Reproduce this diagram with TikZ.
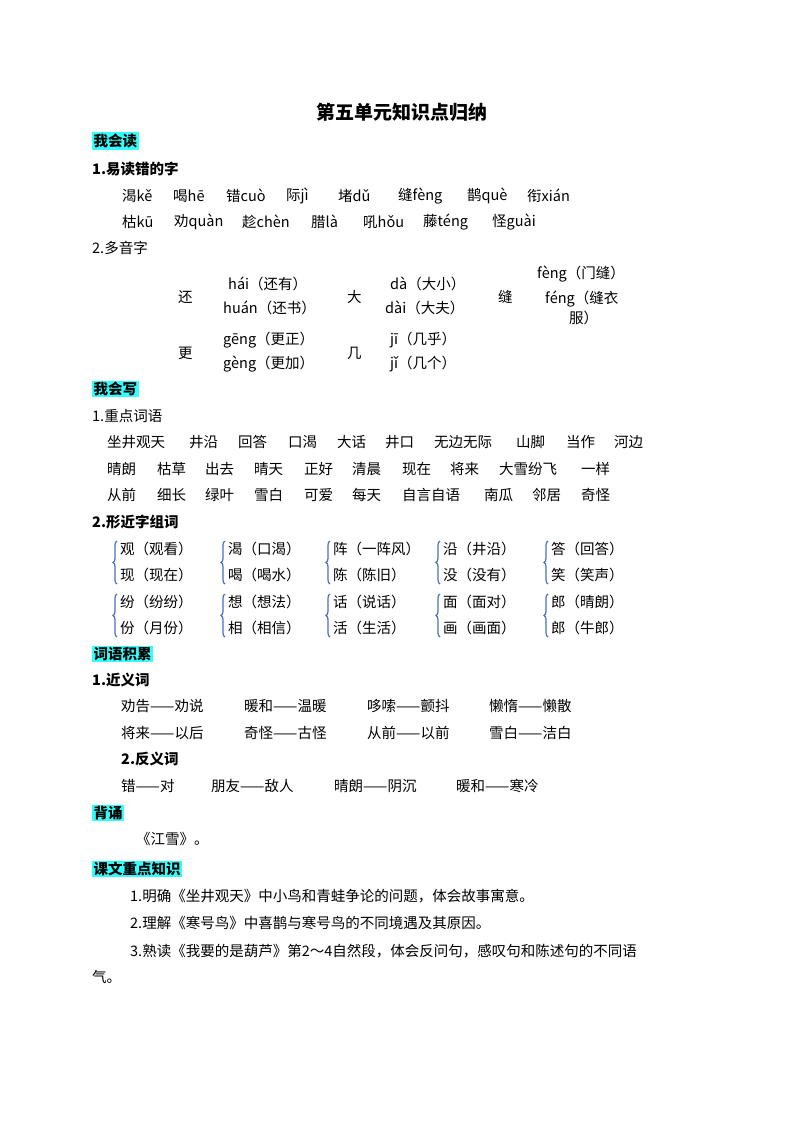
\documentclass[tikz,border=0pt]{standalone}
\usepackage{fontspec}
\setmainfont{Noto Sans CJK SC}
\usetikzlibrary{decorations.pathreplacing}
\definecolor{hl}{HTML}{33FFFF}
\definecolor{br}{HTML}{4472C4}
\tikzset{
  tx/.style={anchor=west,inner sep=0pt,font=\fontsize{14.5}{16}\selectfont},
  hd/.style={tx,font=\fontsize{14.5}{16}\selectfont\bfseries},
  hi/.style={anchor=west,inner sep=1.5pt,fill=hl,font=\fontsize{14.5}{16}\selectfont\bfseries},
  brc/.style={draw=br,line width=1.2pt,decorate,decoration={brace,amplitude=4pt}}
}
\begin{document}
\begin{tikzpicture}[x=1pt,y=-1pt]
\useasboundingbox (0,0) rectangle (800,1132);
\node[font=\fontsize{19}{21}\selectfont\bfseries,inner sep=0pt] (title) at (402,112) {第五单元知识点归纳};
\node[hi] (h1) at (92,141) {我会读};
\node[hd] (s1) at (92,169) {1.易读错的字};
\foreach \x/\t [count=\i] in {122/渴kě,173/喝hē,226/错cuò,286/际jì,338/堵dǔ,398/缝fèng,467/鹊què,527/衔xián}
  \node[tx] (ra\i) at (\x,196) {\t};
\foreach \x/\t [count=\i] in {122/枯kū,174/劝quàn,242/趁chèn,311/腊là,363/吼hǒu,423/藤téng,492/怪guài}
  \node[tx] (rb\i) at (\x,222) {\t};
\node[tx] (s2) at (92,248) {2.多音字};
\node[tx] (p1) at (178,297) {还};
\node[tx] (p2) at (228,284) {hái（还有）};
\node[tx] (p3) at (223,308) {huán（还书）};
\node[tx] (p4) at (347,297) {大};
\node[tx] (p5) at (390,284) {dà（大小）};
\node[tx] (p6) at (385,308) {dài（大夫）};
\node[tx] (p7) at (498,297) {缝};
\node[tx] (p8) at (537,274) {fèng（门缝）};
\node[tx] (p9) at (545,299) {féng（缝衣};
\node[tx] (p10) at (569,318) {服）};
\node[tx] (p11) at (178,353) {更};
\node[tx] (p12) at (223,340) {gēng（更正）};
\node[tx] (p13) at (223,364) {gèng（更加）};
\node[tx] (p14) at (347,353) {几};
\node[tx] (p15) at (390,340) {jī（几乎）};
\node[tx] (p16) at (390,364) {jǐ（几个）};
\node[hi] (h2) at (92,389) {我会写};
\node[tx] (s3) at (92,416) {1.重点词语};
\foreach \x/\t [count=\i] in {107/坐井观天,189/井沿,238/回答,288/口渴,337/大话,385/井口,434/无边无际,516/山脚,566/当作,614/河边}
  \node[tx] (wa\i) at (\x,442) {\t};
\foreach \x/\t [count=\i] in {107/晴朗,157/枯草,205/出去,254/晴天,304/正好,352/清晨,402/现在,450/将来,499/大雪纷飞,581/一样}
  \node[tx] (wb\i) at (\x,469) {\t};
\foreach \x/\t [count=\i] in {107/从前,157/细长,205/绿叶,254/雪白,304/可爱,352/每天,402/自言自语,484/南瓜,532/邻居,581/奇怪}
  \node[tx] (wc\i) at (\x,495) {\t};
\node[hd] (s4) at (92,522) {2.形近字组词};
\foreach \x/\a/\b [count=\i] in {120/观（观看）/现（现在）,228/渴（口渴）/喝（喝水）,333/阵（一阵风）/陈（陈旧）,443/沿（井沿）/没（没有）,551/答（回答）/笑（笑声）}{
  \node[tx] (ka\i) at (\x,549) {\a};
  \node[tx] (kb\i) at (\x,575) {\b};
  \draw[brc] (\x-3,584) -- (\x-3,541);
}
\foreach \x/\a/\b [count=\i] in {120/纷（纷纷）/份（月份）,228/想（想法）/相（相信）,333/话（说话）/活（生活）,443/面（面对）/画（画面）,551/郎（晴朗）/郎（牛郎）}{
  \node[tx] (kc\i) at (\x,602) {\a};
  \node[tx] (kd\i) at (\x,628) {\b};
  \draw[brc] (\x-3,637) -- (\x-3,594);
}
\node[hi] (h3) at (92,654) {词语积累};
\node[hd] (s5) at (92,680) {1.近义词};
\foreach \x/\t [count=\i] in {121/劝告——劝说,244/暖和——温暖,367/哆嗦——颤抖,489/懒惰——懒散}
  \node[tx] (ja\i) at (\x,706) {\t};
\foreach \x/\t [count=\i] in {121/将来——以后,244/奇怪——古怪,367/从前——以前,489/雪白——洁白}
  \node[tx] (jb\i) at (\x,733) {\t};
\node[hd] (s6) at (121,759) {2.反义词};
\foreach \x/\t [count=\i] in {121/错——对,211/朋友——敌人,334/晴朗——阴沉,456/暖和——寒冷}
  \node[tx] (fa\i) at (\x,786) {\t};
\node[hi] (h4) at (92,813) {背诵};
\node[tx] (b1) at (136,839) {《江雪》。};
\node[hi] (h5) at (92,869) {课文重点知识};
\node[tx] (k1) at (130,896) {1.明确《坐井观天》中小鸟和青蛙争论的问题，体会故事寓意。};
\node[tx] (k2) at (130,923) {2.理解《寒号鸟》中喜鹊与寒号鸟的不同境遇及其原因。};
\node[tx] (k3) at (130,951) {3.熟读《我要的是葫芦》第2～4自然段，体会反问句，感叹句和陈述句的不同语};
\node[tx] (k4) at (92,977) {气。};
\end{tikzpicture}
\end{document}
